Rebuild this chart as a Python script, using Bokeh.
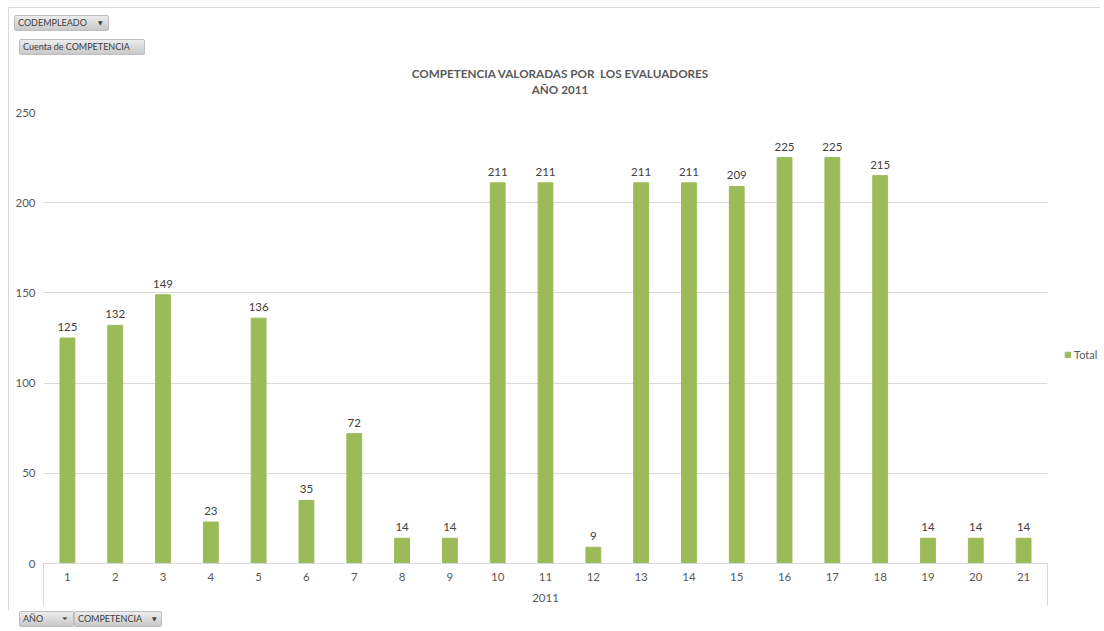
from bokeh.plotting import figure
from bokeh.layouts import column
from bokeh.models import (ColumnDataSource, LabelSet, Legend, LegendItem, FixedTicker, Div)
from bokeh.core.properties import value
from bokeh.embed import file_html
from bokeh.resources import INLINE

# ---- data ----
categories = [1, 2, 3, 4, 5, 6, 7, 8, 9, 10, 11, 12, 13, 14, 15, 16, 17, 18, 19, 20, 21]
totals = [125, 132, 149, 23, 136, 35, 72, 14, 14, 211, 211, 9, 211, 211, 209, 225, 225, 215, 14, 14, 14]
y_ticks = [0, 50, 100, 150, 200, 250]
group_label = "2011"
title_lines = ["COMPETENCIA VALORADAS POR&nbsp; LOS EVALUADORES", "AÑO 2011"]
series_name = "Total"
top_buttons = ["CODEMPLEADO", "Cuenta de COMPETENCIA"]
bottom_buttons = ["AÑO", "COMPETENCIA"]

FONT = "Lato"
BAR = "#9BBB59"
GRID = "#d9d9d9"
TXT = "#595959"
W = 1100

src = ColumnDataSource(dict(cat=categories, val=totals, lab=[str(v) for v in totals]))

p = figure(x_range=(0.5, 21.5), y_range=(0, 250),
           frame_width=1004, frame_height=451,
           min_border_left=43, min_border_right=53, min_border_top=12, min_border_bottom=47,
           output_backend="svg", toolbar_location=None, margin=0)
p.outline_line_color = None
p.background_fill_color = "white"
p.border_fill_alpha = 0
p.styles = {"background": "linear-gradient(to right, white 8px, #d9d9d9 8px, #d9d9d9 9px, white 9px)"}

r = p.vbar(x="cat", top="val", width=0.31, source=src, fill_color=BAR, line_color=BAR)

p.add_layout(LabelSet(x="cat", y="val", text="lab", source=src, text_align="center",
                      text_baseline="bottom", y_offset=7, text_font_size="11.5px",
                      text_color="#404040", text_font=value(FONT)))

# axes
p.yaxis.ticker = FixedTicker(ticks=y_ticks)
p.yaxis.axis_line_color = None
p.yaxis.major_tick_line_color = None
p.yaxis.minor_tick_line_color = None
p.yaxis.major_tick_out = 0
p.yaxis.major_tick_in = 0
p.yaxis.minor_tick_out = 0
p.yaxis.minor_tick_in = 0
p.yaxis.major_label_text_font_size = "11.5px"
p.yaxis.major_label_text_color = TXT
p.yaxis.major_label_text_font = FONT
p.yaxis.major_label_standoff = 8

p.xaxis.ticker = FixedTicker(ticks=categories, minor_ticks=[0.5, 21.5])
p.xaxis.major_label_overrides = {c: str(c) for c in categories}
p.xaxis.axis_line_color = GRID
p.xaxis.major_tick_line_color = None
p.xaxis.major_tick_out = 0
p.xaxis.major_tick_in = 0
p.xaxis.minor_tick_line_color = GRID
p.xaxis.minor_tick_in = 0
p.xaxis.minor_tick_out = 42
p.xaxis.major_label_text_font_size = "11.5px"
p.xaxis.major_label_text_color = TXT
p.xaxis.major_label_text_font = FONT
p.xaxis.major_label_standoff = -33
p.xaxis.axis_label = group_label
p.xaxis.axis_label_text_font_size = "11.5px"
p.xaxis.axis_label_text_font_style = "normal"
p.xaxis.axis_label_text_color = TXT
p.xaxis.axis_label_text_font = FONT
p.xaxis.axis_label_standoff = 10

p.xgrid.grid_line_color = None
p.ygrid.grid_line_color = GRID

legend = Legend(items=[LegendItem(label=series_name, renderers=[r])], location=(17, 202),
                glyph_width=7, glyph_height=7, label_text_font_size="11px",
                label_text_color=TXT, label_text_font=FONT, padding=0, margin=0,
                background_fill_alpha=0, border_line_color=None, label_standoff=3,
                label_height=12)
p.add_layout(legend, "right")

BTN = ("position:absolute;height:16px;box-sizing:border-box;border:1px solid #bdbdbd;"
       "border-radius:2px;background:linear-gradient(#ececec,#c9c9c9);"
       "font-family:Lato;font-size:9px;color:#404040;line-height:14px;padding-left:3px;")
ARROW = "position:absolute;top:0px;font-family:'DejaVu Sans';font-size:6px;color:#404040;"

top_html = f"""
<div style="position:relative;width:{W}px;height:100px;background:white;">
  <div style="position:absolute;left:8px;top:7px;width:{W-8}px;height:93px;border-top:1px solid #d9d9d9;border-left:1px solid #d9d9d9;"></div>
  <div style="{BTN}left:14px;top:15px;width:95px;">{top_buttons[0]}<span style="{ARROW}left:83px;">▼</span></div>
  <div style="{BTN}left:19px;top:39px;width:126px;">{top_buttons[1]}</div>
  <div style="position:absolute;left:260px;top:65px;width:600px;text-align:center;font-family:Lato;font-weight:bold;font-size:11.7px;color:{TXT};line-height:16px;">{title_lines[0]}<br>{title_lines[1]}</div>
</div>
"""
bot_html = f"""
<div style="position:relative;width:{W}px;height:21px;background:white;">
  <div style="{BTN}left:19px;top:1px;width:55px;">{bottom_buttons[0]}<span style="{ARROW}left:42px;font-size:7px;">⏷</span></div>
  <div style="{BTN}left:74px;top:1px;width:88px;">{bottom_buttons[1]}<span style="{ARROW}left:77px;">▼</span></div>
</div>
"""
top_div = Div(text=top_html, width=W, height=100, margin=0)
bot_div = Div(text=bot_html, width=W, height=21, margin=0)

layout = column(top_div, p, bot_div, spacing=0, margin=0)
open("out.html", "w").write(file_html(layout, INLINE))
